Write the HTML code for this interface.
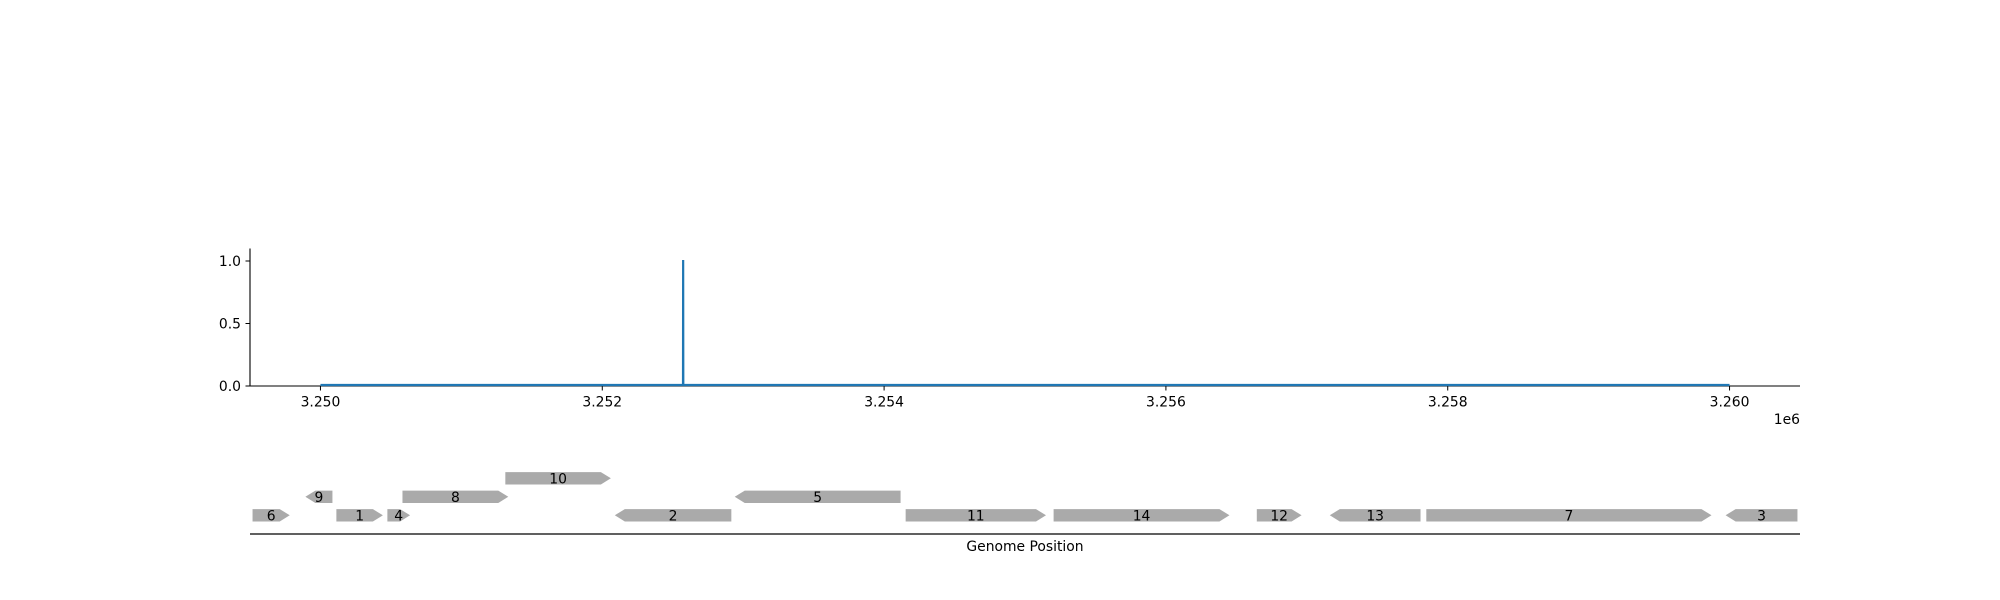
<!DOCTYPE html>
<html><head><meta charset="utf-8"><style>
html,body{margin:0;padding:0;background:#fff;}
svg{display:block;font-family:"DejaVu Sans","Liberation Sans",sans-serif;}
</style></head><body>
<svg id="chart" width="2000" height="600" viewBox="0 0 2000 600">
<g id="topg"></g>
<g id="genes"></g>
</svg>
<script>
const xTicks = [3250000, 3252000, 3254000, 3256000, 3258000, 3260000];
const xTickLabels = ["3.250", "3.252", "3.254", "3.256", "3.258", "3.260"];
const yTicks = [0, 0.5, 1.0];
const yTickLabels = ["0.0", "0.5", "1.0"];
const covX = [3250000, 3252573, 3252574, 3252575, 3260000];
const covY = [0, 0, 1, 0, 0];
const geneNames = ["6","9","1","4","8","10","2","5","11","14","12","13","7","3"];
const geneStart = [3249518,3249893,3250113,3250475,3250582,3251312,3252089,3252940,3254153,3255203,3256645,3257163,3257848,3259972];
const geneEnd   = [3249782,3250085,3250443,3250636,3251333,3252061,3252916,3254117,3255149,3256451,3256963,3257807,3259872,3260482];
const geneStrand = [1,-1,1,1,1,1,-1,-1,1,1,1,-1,1,-1];
const geneRow = [0,1,0,0,1,2,0,1,0,0,0,0,0,0];

const NS="http://www.w3.org/2000/svg";
const X0=250,X1=1800, XMIN=3249500, XMAX=3260500;
const sx = v => X0 + (v-XMIN)/(XMAX-XMIN)*(X1-X0);
const Y0=386, YTOP=248.5, YMAX=1.1;
const sy = v => Y0 - v/YMAX*(Y0-YTOP);
function mk(tag, attrs, parent){const e=document.createElementNS(NS,tag);for(const k in attrs)e.setAttribute(k,attrs[k]);parent.appendChild(e);return e;}
const topG=document.getElementById('topg'), gt=document.getElementById('genes');
const FS=13.9;

let e=mk('line',{x1:X0,y1:YTOP,x2:X0,y2:Y0,stroke:'#000','stroke-width':1.1},topG);


e=mk('line',{x1:X0,y1:Y0,x2:X1,y2:Y0,stroke:'#000','stroke-width':1.1},topG);



xTicks.forEach((t,i)=>{
  const x=sx(t);
  let l=mk('line',{x1:x,y1:Y0,x2:x,y2:Y0+4.5,stroke:'#000','stroke-width':1},topG);
  
  
  let tx=mk('text',{x:x,y:406.5,'font-size':FS,'text-anchor':'middle',fill:'#000'},topG);
  tx.textContent=xTickLabels[i];
  
  
});
yTicks.forEach((t,i)=>{
  const y=sy(t);
  let l=mk('line',{x1:X0-4.5,y1:y,x2:X0,y2:y,stroke:'#000','stroke-width':1},topG);
  
  
  let tx=mk('text',{x:X0-9,y:y+5,'font-size':FS,'text-anchor':'end',fill:'#000'},topG);
  tx.textContent=yTickLabels[i];
  
  
});
e=mk('text',{x:1800,y:424,'font-size':FS,'text-anchor':'end',fill:'#000'},topG);
e.textContent='1e6';



const pts=covX.map((v,i)=>sx(v).toFixed(2)+','+(sy(covY[i])-1).toFixed(2)).join(' ');
e=mk('polyline',{points:pts,fill:'none',stroke:'#1f77b4','stroke-width':2.2},topG);



const rowY=[515.3,496.8,478.3], H=12.4, HEAD=10;
geneNames.forEach((n,i)=>{
  const a=sx(geneStart[i]), b=sx(geneEnd[i]), yc=rowY[geneRow[i]], t=yc-H/2, bt=yc+H/2;
  const h=Math.min(HEAD,(b-a)*0.6);
  let d;
  if(geneStrand[i]>0) d=`M${a},${t} L${b-h},${t} L${b},${yc} L${b-h},${bt} L${a},${bt} Z`;
  else d=`M${b},${t} L${a+h},${t} L${a},${yc} L${a+h},${bt} L${b},${bt} Z`;
  let p=mk('path',{d:d,fill:'#aaaaaa'},gt);
  
  
  let tx=mk('text',{x:(a+b)/2,y:yc+5,'font-size':FS,'text-anchor':'middle',fill:'#000'},gt);
  tx.textContent=n;
  
  
});
e=mk('line',{x1:X0,y1:534,x2:X1,y2:534,stroke:'#000','stroke-width':1.3},gt);


e=mk('text',{x:(X0+X1)/2,y:551,'font-size':FS,'text-anchor':'middle',fill:'#000'},gt);
e.textContent='Genome Position';


</script>
</body></html>
